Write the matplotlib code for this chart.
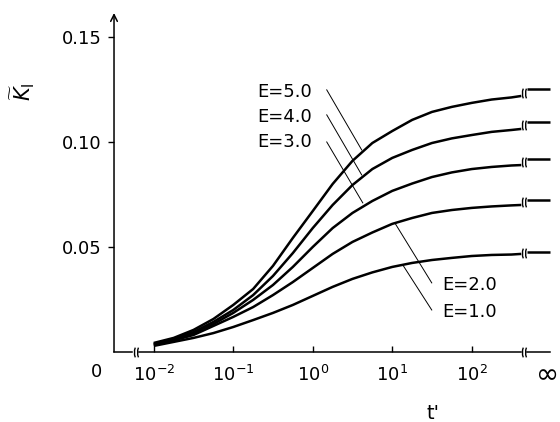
import matplotlib
matplotlib.use("Agg")
import matplotlib.pyplot as plt
from matplotlib.path import Path
from matplotlib.markers import MarkerStyle


# t' values (quarter decades)
t_vals = [0.01, 0.0178, 0.0316, 0.0562, 0.1, 0.178, 0.316, 0.562, 1.0, 1.78,
          3.16, 5.62, 10, 17.8, 31.6, 56.2, 100, 178, 316, 420]

k_e1 = [0.0029, 0.0048, 0.0067, 0.0090, 0.0119, 0.0152, 0.0186, 0.0224, 0.0267, 0.0310,
        0.0348, 0.0379, 0.0405, 0.0424, 0.0438, 0.0448, 0.0457, 0.0462, 0.0464, 0.0467]
k_e2 = [0.0033, 0.0055, 0.0081, 0.0124, 0.0167, 0.0214, 0.0271, 0.0333, 0.0400, 0.0467,
        0.0524, 0.0569, 0.0610, 0.0638, 0.0662, 0.0676, 0.0686, 0.0693, 0.0698, 0.0700]
k_e3 = [0.0038, 0.0062, 0.0090, 0.0133, 0.0186, 0.0248, 0.0319, 0.0405, 0.0500, 0.0590,
        0.0662, 0.0719, 0.0767, 0.0802, 0.0833, 0.0855, 0.0871, 0.0881, 0.0888, 0.0890]
k_e4 = [0.0038, 0.0062, 0.0095, 0.0143, 0.0200, 0.0271, 0.0362, 0.0471, 0.0590, 0.0700,
        0.0795, 0.0871, 0.0924, 0.0962, 0.0995, 0.1017, 0.1033, 0.1048, 0.1057, 0.1062]
k_e5 = [0.0043, 0.0067, 0.0105, 0.0157, 0.0224, 0.0300, 0.0410, 0.0543, 0.0671, 0.0800,
        0.0910, 0.0995, 0.1052, 0.1105, 0.1143, 0.1167, 0.1186, 0.1202, 0.1212, 0.1219]

# values at t' = infinity
k_inf = [0.0476, 0.0724, 0.092, 0.1095, 0.125]

curves = [k_e1, k_e2, k_e3, k_e4, k_e5]

x_ticks = [0.01, 0.1, 1, 10, 100]
x_ticklabels = [r"$10^{-2}$", r"$10^{-1}$", r"$10^{0}$", r"$10^{1}$", r"$10^{2}$"]
y_ticks = [0.05, 0.10, 0.15]
y_ticklabels = ["0.05", "0.10", "0.15"]

# where the broken axis puts infinity
t_break = 450
t_inf_start, t_inf_end = 490, 960
t_inf_label = 870

plt.rcParams["font.family"] = "DejaVu Sans"
plt.rcParams["mathtext.fontset"] = "dejavusans"

fig = plt.figure(figsize=(5.6, 4.22), dpi=100)
ax = fig.add_axes([0.2036, 0.1659, 0.7786, 0.8033])
ax.set_xscale("log")
ax.set_xlim(10 ** -2.5, 10 ** 2.985)
ax.set_ylim(0, 0.1614)

for s in ax.spines.values():
    s.set_visible(False)

# break marker "((" shape
brk = Path([(-1.0, -4), (-2.6, 0), (-1.0, 4), (1.6, -4), (0.0, 0), (1.6, 4)],
           [Path.MOVETO, Path.CURVE3, Path.CURVE3, Path.MOVETO, Path.CURVE3, Path.CURVE3])
brk_marker = MarkerStyle(brk)

for k, kinf in zip(curves, k_inf):
    ax.plot(t_vals, k, color="black", lw=1.8, solid_capstyle="butt",
            solid_joinstyle="round")
    ax.plot([t_inf_start, t_inf_end], [kinf, kinf], color="black", lw=1.8,
            clip_on=False, solid_capstyle="butt")
    ax.plot([t_break], [(k[-1] + kinf) / 2], marker=brk_marker, ms=7,
            mfc="none", mec="black", mew=1.0, ls="none", clip_on=False)

# x axis drawn in pieces with breaks
xt = ax.get_xaxis_transform()
for a, b in [(10 ** -2.5, 0.0054), (0.0066, 420), (t_inf_start, t_inf_end)]:
    ax.plot([a, b], [0, 0], color="black", lw=1.1, transform=xt, clip_on=False)
for tb in [0.006, t_break]:
    ax.plot([tb], [0], marker=brk_marker, ms=7, mfc="none", mec="black",
            mew=1.0, ls="none", transform=xt, clip_on=False)

# y axis with arrow
ax.annotate("", xy=(0, 1.0), xytext=(0, 0), xycoords="axes fraction",
            arrowprops=dict(arrowstyle="->", lw=1.1, color="black",
                            shrinkA=0, shrinkB=0, mutation_scale=12))

ax.set_xticks(x_ticks)
ax.set_xticklabels(x_ticklabels)
ax.xaxis.set_minor_locator(plt.NullLocator())
ax.tick_params(axis="x", direction="in", length=4, width=1, labelsize=13, pad=9)
ax.set_yticks(y_ticks)
ax.set_yticklabels(y_ticklabels)
ax.tick_params(axis="y", direction="out", length=4, width=1, labelsize=13, pad=5)

ax.text(t_inf_label, -0.062, r"$\infty$", transform=xt, ha="center", va="center",
        fontsize=20)
ax.text(-0.041, -0.059, "0", transform=ax.transAxes, ha="center", va="center",
        fontsize=13)
ax.text(0.732, -0.18, "t'", transform=ax.transAxes, ha="center", va="center",
        fontsize=14)
ax.text(-0.209, 0.767, r"$\widetilde{K}_{\mathrm{I}}$", transform=ax.transAxes,
        ha="center", va="center", rotation=90, fontsize=15)

# labels and leader lines
upper = [("E=5.0", 0.1238, (1.5, 0.1248), (4.13, 0.0962)),
         ("E=4.0", 0.1119, (1.5, 0.1129), (4.13, 0.0843)),
         ("E=3.0", 0.1000, (1.5, 0.1000), (4.26, 0.0710))]
for lab, ty, p0, p1 in upper:
    ax.text(0.203, ty, lab, ha="left", va="center", fontsize=13)
    ax.plot([p0[0], p1[0]], [p0[1], p1[1]], color="black", lw=0.7)

lower = [("E=2.0", 0.0319, (10.8, 0.0614), (31.4, 0.0329)),
         ("E=1.0", 0.0190, (13.6, 0.0414), (31.4, 0.0200))]
for lab, ty, p0, p1 in lower:
    ax.text(42, ty, lab, ha="left", va="center", fontsize=13)
    ax.plot([p0[0], p1[0]], [p0[1], p1[1]], color="black", lw=0.7)

fig.savefig("out.png", dpi=100)
